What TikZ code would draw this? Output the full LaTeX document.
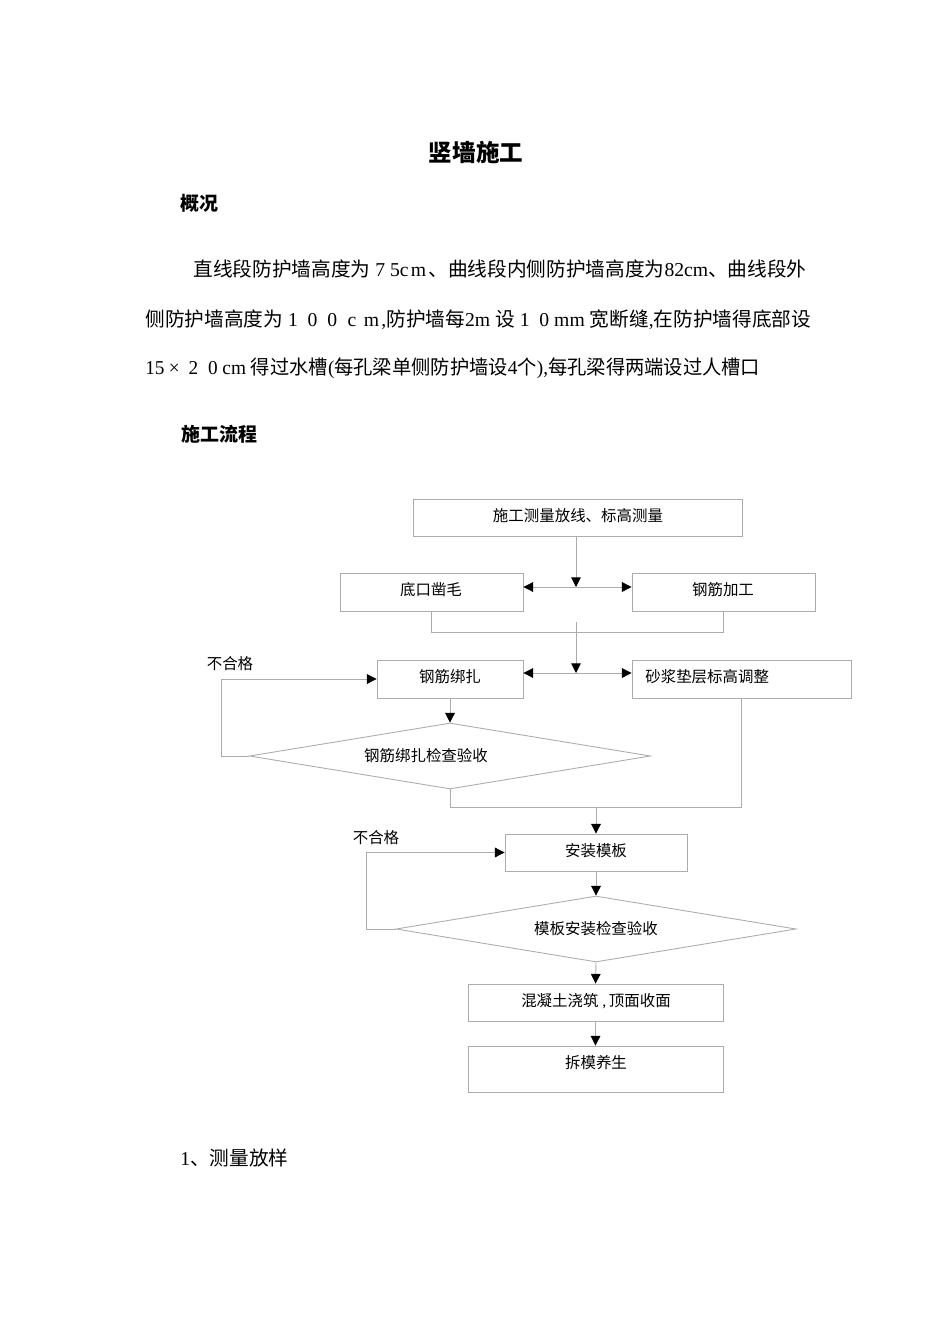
\documentclass[tikz,border=0pt]{standalone}
\usepackage{fontspec}
\setmainfont{Noto Sans CJK SC}
\newfontfamily\lat{Liberation Serif}
\newcommand\fw[1]{\makebox[1em]{#1}}
\usetikzlibrary{arrows.meta,shapes.geometric}
\begin{document}
\begin{tikzpicture}[x=0.02cm,y=-0.02cm,
  box/.style={draw=gray!65, line width=0.5pt, rectangle, inner sep=0pt},
  dia/.style={draw=gray!65, line width=0.5pt, diamond, inner sep=0pt, aspect=6},
  ln/.style={draw=gray!65, line width=0.5pt},
  tip/.tip={Triangle[length=5.5pt,width=5.5pt,black]},
  arr/.style={ln, -tip},
  darr/.style={ln, tip-tip},
  ft/.style={font=\fontsize{8.8pt}{10pt}\selectfont, inner sep=0pt},
  para/.style={font=\fontsize{11.2pt}{13pt}\selectfont, inner sep=0pt, anchor=west},
  head/.style={font=\fontsize{10.8pt}{13pt}\selectfont\bfseries, inner sep=0pt, anchor=west}]
\useasboundingbox (0,0) rectangle (950,1344);

% page text
\node[font=\fontsize{13.4pt}{16pt}\selectfont\bfseries, inner sep=0pt] (title) at (476,152) {竖墙施工};
\node[head] (h1) at (180,203) {概况};
\node[para] (p1) at (193,269) {直线段防护墙高度为{\lat\fw{7}5c\fw{m}}、曲线段内侧防护墙高度为{\lat 82cm}、曲线段外};
\node[para] (p2) at (145,320) {侧防护墙高度为{\lat\fw{1}\fw{0}\fw{0}\fw{c}\fw{m},}防护墙每{\lat 2m }设{\lat\fw{1}\fw{0}mm }宽断缝{\lat ,}在防护墙得底部设};
\node[para, xscale=0.98] (p3) at (145,368) {{\lat 15\fw{×}\fw{2}\fw{0}cm }得过水槽{\lat (}每孔梁单侧防护墙设{\lat 4}个{\lat ),}每孔梁得两端设过人槽口};
\node[head] (h2) at (181,434) {施工流程};
\node[para] (h3) at (180,1158) {{\lat 1}、测量放样};

% flowchart boxes
\node[box, minimum width=6.58cm, minimum height=0.74cm] (b1) at (577.5,517.5) {};
\node[ft] at (578,516) {施工测量放线、标高测量};
\node[box, minimum width=3.66cm, minimum height=0.76cm] (b2) at (431.5,592) {};
\node[ft] at (431,590) {底口凿毛};
\node[box, minimum width=3.66cm, minimum height=0.76cm] (b3) at (723.5,592) {};
\node[ft] at (723,590) {钢筋加工};
\node[box, minimum width=2.92cm, minimum height=0.76cm] (b4) at (450,679) {};
\node[ft] at (450,677) {钢筋绑扎};
\node[box, minimum width=4.38cm, minimum height=0.76cm] (b5) at (741.5,679) {};
\node[ft, anchor=west] at (645,677) {砂浆垫层标高调整};
\node[dia, minimum width=8.02cm, minimum height=1.32cm] (d1) at (450,756) {};
\node[ft] at (426,756) {钢筋绑扎检查验收};
\node[box, minimum width=3.64cm, minimum height=0.74cm] (b6) at (596,852.5) {};
\node[ft] at (596,851) {安装模板};
\node[dia, minimum width=8cm, minimum height=1.32cm] (d2) at (596,929) {};
\node[ft] at (596,929) {模板安装检查验收};
\node[box, minimum width=5.1cm, minimum height=0.74cm] (b7) at (595.5,1002.5) {};
\node[ft] at (596,1001) {混凝土浇筑{\lat\ ,\,}顶面收面};
\node[box, minimum width=5.1cm, minimum height=0.92cm] (b8) at (595.5,1069) {};
\node[ft] at (596,1063) {拆模养生};
\node[ft] (n1) at (230,664) {不合格};
\node[ft] (n2) at (376,838) {不合格};

% junction coordinates
\coordinate (j1) at (576,587);
\coordinate (j2t) at (576,622);
\coordinate (j2) at (576,673);
\coordinate (j3) at (596,807);

% connectors
\draw[arr] (b1.south -| j1) -- (j1);
\draw[darr] (b2.east |- j1) -- (b3.west |- j1);
\draw[ln] (b2.south) -- ++(0,21) -| (b3.south);
\draw[arr] (j2t) -- (j2);
\draw[darr] (b4.east |- j2) -- (b5.west |- j2);
\draw[arr] (b4.south) -- (d1.north);
\draw[arr] (d1.west) -- ++(-28,0) |- (b4.west);
\draw[ln] (d1.south) -- ++(0,18) -| (b5.south);
\draw[arr] (j3) -- (b6.north);
\draw[arr] (b6.south) -- (d2.north);
\draw[arr] (d2.west) -- ++(-29,0) |- (b6.west);
\draw[arr] (d2.south) -- (b7.north);
\draw[arr] (b7.south) -- (b8.north);
\end{tikzpicture}
\end{document}
